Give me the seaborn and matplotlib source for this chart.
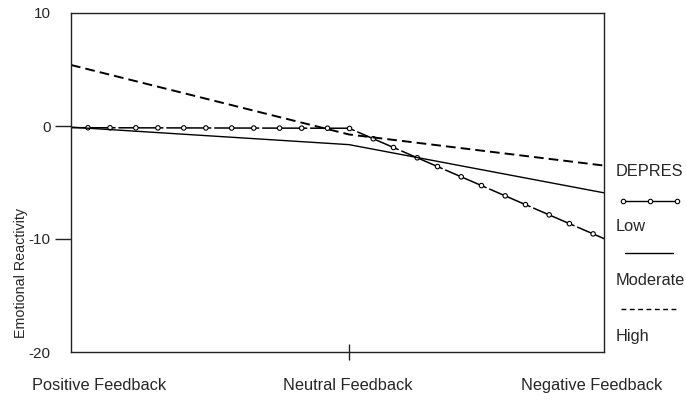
import numpy as np
import pandas as pd
import matplotlib
matplotlib.use("Agg")
import matplotlib.pyplot as plt
import seaborn as sns
from matplotlib.patheffects import AbstractPathEffect
from matplotlib.path import Path
from matplotlib.transforms import Affine2D

# Data
feedback = ["Positive Feedback", "Neutral Feedback", "Negative Feedback"]
feedback_x = [-1, 0, 1]
depres_levels = ["Low", "Moderate", "High"]
low_values = [-0.15, -0.2, -10.85]
moderate_values = [-0.1, -1.65, -6.3]
high_values = [5.4, -0.75, -3.75]
y_ticks = [10, 0, -10, -20]


class BeadedStroke(AbstractPathEffect):
    """Long-dash stroke with small open circles threaded on it (old SPSS style)."""

    def __init__(self, period=34.5, dash_on=31.7, beads=(12.2, 28.1), radius=1.6):
        super().__init__()
        self.period = period
        self.dash_on = dash_on
        self.beads = beads
        self.radius = radius

    def draw_path(self, renderer, gc, tpath, affine, rgbFace=None):
        gc0 = renderer.new_gc()
        gc0.copy_properties(gc)
        gc0.set_dashes(0, [self.dash_on, self.period - self.dash_on])
        renderer.draw_path(gc0, tpath, affine, rgbFace)

        verts = affine.transform(tpath.vertices)
        seg = np.diff(verts, axis=0)
        seg_len = np.hypot(seg[:, 0], seg[:, 1])
        cum = np.concatenate([[0], np.cumsum(seg_len)])
        px = renderer.points_to_pixels(1.0)
        spots = []
        start = 0.0
        while start < cum[-1]:
            for b in self.beads:
                s = start + b * px
                if s < cum[-1]:
                    spots.append(s)
            start += self.period * px
        gc1 = renderer.new_gc()
        gc1.copy_properties(gc)
        gc1.set_dashes(0, None)
        gc1.set_linewidth(0.8)
        r = self.radius * px
        for s in spots:
            i = min(np.searchsorted(cum, s, side="right") - 1, len(seg) - 1)
            t = (s - cum[i]) / seg_len[i] if seg_len[i] > 0 else 0
            x, y = verts[i] + t * seg[i]
            renderer.draw_path(gc1, Path.circle((x, y), r), Affine2D(), (1, 1, 1, 1))
        gc0.restore()
        gc1.restore()


df = pd.DataFrame({
    "Feedback": feedback_x * 3,
    "Reactivity": low_values + moderate_values + high_values,
    "DEPRES": [lvl for lvl in depres_levels for _ in feedback_x],
})

sns.set_style("ticks")
plt.rcParams["font.family"] = ["Liberation Sans", "DejaVu Sans"]
plt.rcParams["font.size"] = 10

fig = plt.figure(figsize=(6.86, 4.0), dpi=100)
ax = fig.add_axes([0.1035, 0.12, 0.777, 0.8475])

sns.lineplot(
    data=df, x="Feedback", y="Reactivity", hue="DEPRES", style="DEPRES",
    hue_order=depres_levels, style_order=depres_levels,
    palette=["black", "black", "black"],
    dashes={"Low": "", "Moderate": "", "High": (5, 2.6)},
    legend=False, ax=ax, sort=False,
)
low_line, mod_line, high_line = ax.lines[:3]
low_line.set_linewidth(1.1)
low_line.set_path_effects([BeadedStroke()])
mod_line.set_linewidth(1.0)
high_line.set_linewidth(1.4)

ax.set_xlim(-1, 0.917)
ax.set_ylim(-20, 10)

for side in ["left", "right", "top", "bottom"]:
    ax.spines[side].set_color("#222222")
    ax.spines[side].set_linewidth(1.0)

# x axis: only a centre tick, labels placed below as text
ax.set_xticks([0])
ax.set_xticklabels([""])
ax.tick_params(axis="x", direction="inout", length=11, width=1, color="#222222")
ax.set_xlabel("")
label_pos = [0.0525, 0.5197, 0.9775]
for name, xp in zip(feedback, label_pos):
    ax.text(xp, -0.10, name, transform=ax.transAxes, ha="center", va="center", fontsize=11.8)

# y axis
ax.set_yticks(y_ticks)
ax.set_yticklabels([str(v) for v in y_ticks])
ax.tick_params(axis="y", direction="out", length=11.5, width=1, color="#222222", pad=3, labelsize=11)
for tick in (ax.yaxis.get_major_ticks()[0], ax.yaxis.get_major_ticks()[-1]):
    tick.tick1line.set_visible(False)
ax.set_ylabel("Emotional Reactivity", fontsize=10.3)
ax.yaxis.set_label_coords(-0.08, 0.233)

# legend drawn beside the plot
tx = 1.0225
fs = 11.8
ax.text(tx, 0.531, "DEPRES", transform=ax.transAxes, va="center", fontsize=fs)
ax.plot([1.0356, 1.0863, 1.137], [0.445] * 3, transform=ax.transAxes, clip_on=False,
        color="black", lw=1.0, marker="o", ms=3.2, mfc="white", mec="black", mew=0.8)
ax.text(tx, 0.369, "Low", transform=ax.transAxes, va="center", fontsize=fs)
ax.plot([1.039, 1.129], [0.292] * 2, transform=ax.transAxes, clip_on=False, color="black", lw=1.0)
ax.text(tx, 0.212, "Moderate", transform=ax.transAxes, va="center", fontsize=fs)
ax.plot([1.032, 1.139], [0.127] * 2, transform=ax.transAxes, clip_on=False,
        color="black", lw=1.0, linestyle=(0, (3.5, 2.5)))
ax.text(tx, 0.047, "High", transform=ax.transAxes, va="center", fontsize=fs)

fig.savefig("out.png", dpi=100)
